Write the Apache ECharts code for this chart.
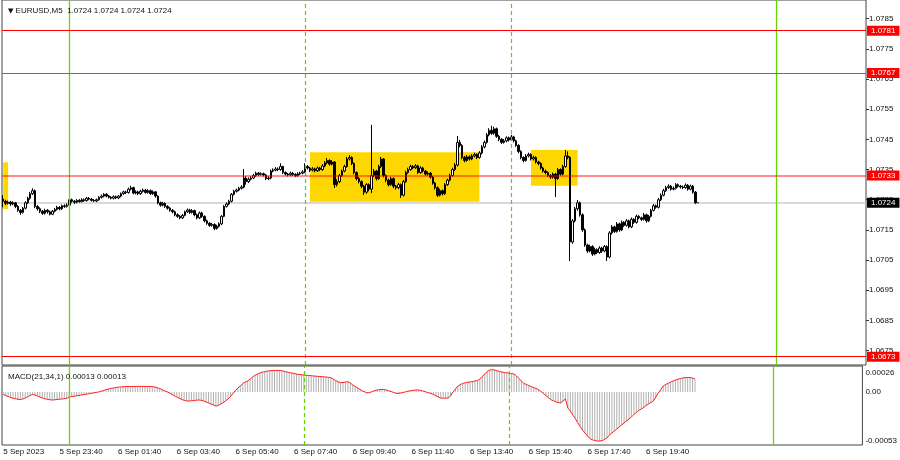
<!DOCTYPE html>
<html><head><meta charset="utf-8">
<script src="https://cdn.jsdelivr.net/npm/echarts@6/dist/echarts.min.js"></script>
<style>html,body{margin:0;padding:0;background:#fff}#c{width:900px;height:460px}</style>
</head><body><div id="c"></div>
<script>
// ---- data (EURUSD M5, 5 Sep 21:45 .. 6 Sep 21:20) ----
const opens = [1.07252,1.07245,1.07238,1.07242,1.07236,1.07240,1.07228,1.07215,1.07208,1.07222,
1.07240,1.07255,1.07270,1.07280,1.07228,1.07220,1.07212,1.07205,1.07215,1.07210,
1.07202,1.07212,1.07218,1.07225,1.07220,1.07230,1.07228,1.07232,1.07250,1.07245,
1.07242,1.07248,1.07244,1.07250,1.07247,1.07255,1.07252,1.07248,1.07246,1.07250,
1.07258,1.07262,1.07268,1.07262,1.07258,1.07255,1.07260,1.07256,1.07262,1.07270,
1.07276,1.07274,1.07285,1.07290,1.07272,1.07276,1.07270,1.07278,1.07282,1.07274,
1.07280,1.07270,1.07276,1.07262,1.07240,1.07232,1.07238,1.07228,1.07222,1.07215,
1.07210,1.07200,1.07195,1.07190,1.07198,1.07210,1.07216,1.07208,1.07214,1.07200,
1.07190,1.07206,1.07195,1.07180,1.07172,1.07165,1.07168,1.07155,1.07162,1.07170,
1.07195,1.07228,1.07236,1.07245,1.07268,1.07278,1.07282,1.07288,1.07292,1.07322,
1.07310,1.07318,1.07322,1.07330,1.07338,1.07334,1.07336,1.07332,1.07320,1.07322,
1.07345,1.07348,1.07352,1.07350,1.07360,1.07340,1.07335,1.07332,1.07338,1.07334,
1.07330,1.07336,1.07338,1.07342,1.07360,1.07355,1.07348,1.07352,1.07346,1.07355,
1.07350,1.07362,1.07372,1.07380,1.07368,1.07375,1.07300,1.07310,1.07330,1.07345,
1.07360,1.07385,1.07390,1.07370,1.07340,1.07320,1.07310,1.07295,1.07275,1.07300,
1.07285,1.07330,1.07345,1.07320,1.07360,1.07385,1.07330,1.07315,1.07300,1.07320,
1.07295,1.07290,1.07300,1.07265,1.07310,1.07340,1.07350,1.07360,1.07356,1.07362,
1.07340,1.07355,1.07345,1.07335,1.07338,1.07325,1.07305,1.07290,1.07265,1.07280,
1.07270,1.07300,1.07315,1.07330,1.07350,1.07365,1.07440,1.07430,1.07390,1.07380,
1.07392,1.07385,1.07395,1.07400,1.07390,1.07405,1.07425,1.07440,1.07465,1.07480,
1.07470,1.07485,1.07460,1.07450,1.07440,1.07445,1.07455,1.07448,1.07458,1.07445,
1.07430,1.07410,1.07390,1.07380,1.07395,1.07400,1.07385,1.07390,1.07375,1.07370,
1.07355,1.07345,1.07340,1.07330,1.07325,1.07335,1.07320,1.07350,1.07335,1.07360,
1.07395,1.07390,1.07110,1.07180,1.07220,1.07240,1.07200,1.07150,1.07100,1.07080,
1.07095,1.07070,1.07085,1.07075,1.07090,1.07080,1.07095,1.07060,1.07140,1.07160,
1.07145,1.07170,1.07150,1.07175,1.07165,1.07180,1.07160,1.07185,1.07175,1.07195,
1.07190,1.07185,1.07200,1.07180,1.07195,1.07215,1.07230,1.07225,1.07250,1.07265,
1.07280,1.07290,1.07295,1.07285,1.07288,1.07300,1.07295,1.07292,1.07290,1.07298,
1.07285,1.07295,1.07275,1.07240];
const closes = [1.07245,1.07238,1.07242,1.07236,1.07240,1.07228,1.07215,1.07208,1.07222,1.07240,
1.07255,1.07270,1.07280,1.07228,1.07220,1.07212,1.07205,1.07215,1.07210,1.07202,
1.07212,1.07218,1.07225,1.07220,1.07230,1.07228,1.07232,1.07250,1.07245,1.07242,
1.07248,1.07244,1.07250,1.07247,1.07255,1.07252,1.07248,1.07246,1.07250,1.07258,
1.07262,1.07268,1.07262,1.07258,1.07255,1.07260,1.07256,1.07262,1.07270,1.07276,
1.07274,1.07285,1.07290,1.07272,1.07276,1.07270,1.07278,1.07282,1.07274,1.07280,
1.07270,1.07276,1.07262,1.07240,1.07232,1.07238,1.07228,1.07222,1.07215,1.07210,
1.07200,1.07195,1.07190,1.07198,1.07210,1.07216,1.07208,1.07214,1.07200,1.07190,
1.07206,1.07195,1.07180,1.07172,1.07165,1.07168,1.07155,1.07162,1.07170,1.07195,
1.07228,1.07236,1.07245,1.07268,1.07278,1.07282,1.07288,1.07292,1.07322,1.07310,
1.07318,1.07322,1.07330,1.07338,1.07334,1.07336,1.07332,1.07320,1.07322,1.07345,
1.07348,1.07352,1.07350,1.07360,1.07340,1.07335,1.07332,1.07338,1.07334,1.07330,
1.07336,1.07338,1.07342,1.07360,1.07355,1.07348,1.07352,1.07346,1.07355,1.07350,
1.07362,1.07372,1.07380,1.07368,1.07375,1.07300,1.07310,1.07330,1.07345,1.07360,
1.07385,1.07390,1.07370,1.07340,1.07320,1.07310,1.07295,1.07275,1.07300,1.07285,
1.07330,1.07345,1.07320,1.07360,1.07385,1.07330,1.07315,1.07300,1.07320,1.07295,
1.07290,1.07300,1.07265,1.07310,1.07340,1.07350,1.07360,1.07356,1.07362,1.07340,
1.07355,1.07345,1.07335,1.07338,1.07325,1.07305,1.07290,1.07265,1.07280,1.07270,
1.07300,1.07315,1.07330,1.07350,1.07365,1.07440,1.07430,1.07390,1.07380,1.07392,
1.07385,1.07395,1.07400,1.07390,1.07405,1.07425,1.07440,1.07465,1.07480,1.07470,
1.07485,1.07460,1.07450,1.07440,1.07445,1.07455,1.07448,1.07458,1.07445,1.07430,
1.07410,1.07390,1.07380,1.07395,1.07400,1.07385,1.07390,1.07375,1.07370,1.07355,
1.07345,1.07340,1.07330,1.07325,1.07335,1.07320,1.07350,1.07335,1.07360,1.07395,
1.07390,1.07110,1.07180,1.07220,1.07240,1.07200,1.07150,1.07100,1.07080,1.07095,
1.07070,1.07085,1.07075,1.07090,1.07080,1.07095,1.07060,1.07140,1.07160,1.07145,
1.07170,1.07150,1.07175,1.07165,1.07180,1.07160,1.07185,1.07175,1.07195,1.07190,
1.07185,1.07200,1.07180,1.07195,1.07215,1.07230,1.07225,1.07250,1.07265,1.07280,
1.07290,1.07295,1.07285,1.07288,1.07300,1.07295,1.07292,1.07290,1.07298,1.07285,
1.07295,1.07275,1.07240,1.07240];
const highs = [1.07265,1.07250,1.07247,1.07246,1.07245,1.07243,1.07232,1.07219,1.07226,1.07245,
1.07260,1.07276,1.07288,1.07284,1.07232,1.07225,1.07216,1.07220,1.07219,1.07214,
1.07216,1.07223,1.07230,1.07229,1.07234,1.07235,1.07238,1.07255,1.07254,1.07249,
1.07252,1.07252,1.07255,1.07254,1.07259,1.07259,1.07256,1.07252,1.07254,1.07262,
1.07267,1.07272,1.07272,1.07266,1.07262,1.07264,1.07264,1.07266,1.07274,1.07280,
1.07280,1.07290,1.07296,1.07293,1.07281,1.07280,1.07283,1.07287,1.07286,1.07285,
1.07284,1.07281,1.07279,1.07265,1.07244,1.07243,1.07241,1.07232,1.07226,1.07219,
1.07214,1.07205,1.07199,1.07203,1.07214,1.07221,1.07220,1.07219,1.07217,1.07204,
1.07211,1.07210,1.07198,1.07184,1.07176,1.07173,1.07172,1.07167,1.07175,1.07199,
1.07232,1.07241,1.07250,1.07272,1.07283,1.07287,1.07293,1.07298,1.07352,1.07328,
1.07324,1.07328,1.07336,1.07343,1.07342,1.07341,1.07340,1.07335,1.07328,1.07350,
1.07354,1.07358,1.07357,1.07371,1.07363,1.07344,1.07339,1.07343,1.07342,1.07338,
1.07341,1.07343,1.07348,1.07371,1.07365,1.07359,1.07358,1.07356,1.07360,1.07359,
1.07368,1.07378,1.07388,1.07384,1.07381,1.07378,1.07318,1.07335,1.07350,1.07366,
1.07392,1.07398,1.07394,1.07374,1.07344,1.07325,1.07314,1.07299,1.07305,1.07304,
1.07498,1.07352,1.07349,1.07366,1.07392,1.07388,1.07334,1.07320,1.07326,1.07324,
1.07299,1.07306,1.07304,1.07316,1.07346,1.07356,1.07366,1.07365,1.07368,1.07366,
1.07361,1.07359,1.07349,1.07344,1.07342,1.07329,1.07309,1.07294,1.07286,1.07284,
1.07305,1.07320,1.07336,1.07356,1.07372,1.07461,1.07448,1.07434,1.07395,1.07398,
1.07397,1.07401,1.07406,1.07404,1.07411,1.07431,1.07446,1.07471,1.07487,1.07495,
1.07492,1.07489,1.07465,1.07454,1.07451,1.07460,1.07459,1.07465,1.07462,1.07449,
1.07434,1.07414,1.07394,1.07401,1.07406,1.07404,1.07396,1.07394,1.07379,1.07374,
1.07359,1.07350,1.07344,1.07335,1.07340,1.07339,1.07355,1.07354,1.07366,1.07415,
1.07410,1.07394,1.07186,1.07226,1.07249,1.07244,1.07205,1.07155,1.07104,1.07101,
1.07099,1.07091,1.07089,1.07096,1.07094,1.07100,1.07099,1.07146,1.07166,1.07164,
1.07176,1.07174,1.07181,1.07179,1.07186,1.07184,1.07191,1.07189,1.07201,1.07199,
1.07194,1.07206,1.07204,1.07200,1.07220,1.07236,1.07234,1.07256,1.07271,1.07286,
1.07296,1.07301,1.07299,1.07294,1.07305,1.07304,1.07299,1.07297,1.07304,1.07302,
1.07300,1.07299,1.07279,1.07240];
const lows = [1.07225,1.07232,1.07234,1.07230,1.07232,1.07222,1.07210,1.07200,1.07204,1.07218,
1.07236,1.07250,1.07266,1.07222,1.07214,1.07206,1.07200,1.07201,1.07204,1.07198,
1.07199,1.07208,1.07214,1.07215,1.07216,1.07223,1.07224,1.07229,1.07240,1.07236,
1.07238,1.07240,1.07241,1.07243,1.07244,1.07248,1.07244,1.07242,1.07242,1.07247,
1.07254,1.07258,1.07258,1.07254,1.07251,1.07251,1.07252,1.07252,1.07258,1.07266,
1.07269,1.07270,1.07281,1.07268,1.07268,1.07265,1.07266,1.07274,1.07270,1.07270,
1.07266,1.07266,1.07257,1.07235,1.07227,1.07228,1.07223,1.07217,1.07210,1.07205,
1.07195,1.07190,1.07185,1.07186,1.07195,1.07206,1.07203,1.07204,1.07195,1.07185,
1.07186,1.07190,1.07175,1.07167,1.07160,1.07161,1.07149,1.07151,1.07158,1.07166,
1.07192,1.07224,1.07232,1.07241,1.07264,1.07274,1.07278,1.07284,1.07288,1.07300,
1.07305,1.07314,1.07318,1.07326,1.07329,1.07330,1.07327,1.07315,1.07315,1.07318,
1.07341,1.07344,1.07345,1.07346,1.07335,1.07330,1.07327,1.07328,1.07329,1.07325,
1.07326,1.07332,1.07334,1.07338,1.07350,1.07342,1.07344,1.07341,1.07342,1.07345,
1.07346,1.07358,1.07368,1.07363,1.07364,1.07289,1.07294,1.07305,1.07326,1.07341,
1.07356,1.07380,1.07365,1.07334,1.07314,1.07304,1.07288,1.07266,1.07270,1.07278,
1.07272,1.07325,1.07314,1.07316,1.07355,1.07324,1.07308,1.07294,1.07296,1.07288,
1.07284,1.07285,1.07256,1.07261,1.07306,1.07336,1.07346,1.07351,1.07352,1.07335,
1.07336,1.07340,1.07330,1.07330,1.07320,1.07300,1.07284,1.07259,1.07261,1.07264,
1.07266,1.07296,1.07311,1.07326,1.07345,1.07360,1.07424,1.07384,1.07374,1.07376,
1.07380,1.07381,1.07390,1.07385,1.07386,1.07400,1.07420,1.07436,1.07460,1.07465,
1.07465,1.07455,1.07444,1.07435,1.07436,1.07440,1.07443,1.07444,1.07440,1.07425,
1.07404,1.07384,1.07374,1.07376,1.07390,1.07380,1.07380,1.07370,1.07364,1.07350,
1.07340,1.07334,1.07325,1.07319,1.07320,1.07259,1.07316,1.07330,1.07331,1.07356,
1.07384,1.07047,1.07104,1.07175,1.07214,1.07194,1.07144,1.07094,1.07074,1.07076,
1.07064,1.07066,1.07070,1.07071,1.07074,1.07076,1.07047,1.07056,1.07135,1.07140,
1.07141,1.07144,1.07146,1.07160,1.07161,1.07155,1.07156,1.07170,1.07171,1.07185,
1.07180,1.07181,1.07174,1.07176,1.07191,1.07211,1.07220,1.07221,1.07246,1.07261,
1.07276,1.07286,1.07280,1.07281,1.07284,1.07290,1.07287,1.07285,1.07286,1.07280,
1.07281,1.07270,1.07236,1.07240];
const macdMain = [-2.5e-5,-3.5e-5,-4.5e-5,-5.5e-5,-6.2e-5,-6.8e-5,-7.2e-5,-7.6e-5,-7e-5,-6e-5,
-4.8e-5,-3.5e-5,-2.5e-5,-3e-5,-4e-5,-5e-5,-6e-5,-6.8e-5,-7.3e-5,-7.7e-5,
-8e-5,-7.8e-5,-7.5e-5,-7.2e-5,-7e-5,-6.7e-5,-6.3e-5,-5e-5,-4.6e-5,-4.2e-5,
-3.8e-5,-3.4e-5,-3e-5,-2.6e-5,-2.2e-5,-1.8e-5,-1.3e-5,-0.9e-5,-0.4e-5,0,
0.8e-5,1.5e-5,2.2e-5,3e-5,3.5e-5,4e-5,4.5e-5,4.8e-5,5.1e-5,5.3e-5,
5.4e-5,5.5e-5,5.5e-5,5.5e-5,5.5e-5,5.6e-5,5.6e-5,5.6e-5,5.6e-5,5.5e-5,
5.5e-5,5.4e-5,5e-5,4.3e-5,3.5e-5,2.4e-5,1.3e-5,0.2e-5,-1e-5,-2.5e-5,
-3.7e-5,-5e-5,-6.2e-5,-7.4e-5,-8.3e-5,-9e-5,-9e-5,-8.8e-5,-8.5e-5,-8.2e-5,
-8e-5,-8.3e-5,-9e-5,-10e-5,-11e-5,-12e-5,-13e-5,-14e-5,-13.5e-5,-12e-5,
-10.5e-5,-8.8e-5,-7e-5,-4.5e-5,-1.5e-5,1.5e-5,4e-5,6e-5,8.5e-5,10e-5,
11e-5,13e-5,15e-5,16.7e-5,18e-5,19e-5,19.8e-5,20.3e-5,20.8e-5,21.2e-5,
21.4e-5,21.5e-5,21.6e-5,21.5e-5,21.2e-5,20.6e-5,20e-5,19.5e-5,19e-5,18.5e-5,
18e-5,17.6e-5,17.3e-5,17e-5,16.7e-5,16.5e-5,16.3e-5,16e-5,15.8e-5,15.6e-5,
15.4e-5,15.2e-5,15e-5,14.7e-5,14.4e-5,13e-5,11.5e-5,10.2e-5,9.3e-5,9.5e-5,
10e-5,10.3e-5,9e-5,7e-5,5.5e-5,4e-5,2.5e-5,1e-5,0,-1e-5,
-0.5e-5,0.5e-5,1.3e-5,2e-5,2.4e-5,2.6e-5,2.5e-5,1.8e-5,1e-5,0.2e-5,
-0.7e-5,-1.5e-5,-1.3e-5,-0.8e-5,-0.2e-5,0.4e-5,1e-5,1.5e-5,1.8e-5,2e-5,
2e-5,1.5e-5,0.8e-5,0,-0.8e-5,-1.5e-5,-2.5e-5,-3.8e-5,-5e-5,-6e-5,
-6.2e-5,-6.2e-5,-6e-5,-4e-5,0,3e-5,6e-5,7.5e-5,8.5e-5,9.3e-5,
9.7e-5,10e-5,10.5e-5,11e-5,11.5e-5,13e-5,15.5e-5,18e-5,20.5e-5,22e-5,
22.3e-5,22e-5,21.2e-5,20.5e-5,20e-5,19.5e-5,19.2e-5,18.8e-5,18.4e-5,18e-5,
16e-5,13.5e-5,11e-5,8.6e-5,7.5e-5,6.5e-5,5.5e-5,4.5e-5,3.5e-5,2.5e-5,
0.5e-5,-1.5e-5,-3.5e-5,-5.5e-5,-7.6e-5,-8.8e-5,-9.8e-5,-10.5e-5,-11e-5,-9e-5,
-7e-5,-16e-5,-19e-5,-23e-5,-26.5e-5,-30.5e-5,-34.5e-5,-38e-5,-41e-5,-44e-5,
-46.5e-5,-47.8e-5,-48.5e-5,-49e-5,-49e-5,-48.7e-5,-47.5e-5,-46e-5,-43e-5,-41e-5,
-39e-5,-37e-5,-35e-5,-33e-5,-31e-5,-29e-5,-27e-5,-25e-5,-22.5e-5,-20.5e-5,
-18.5e-5,-17e-5,-15.5e-5,-13.5e-5,-12e-5,-10.5e-5,-9e-5,-5e-5,-1e-5,2.5e-5,
6e-5,7.5e-5,8.7e-5,9.8e-5,11e-5,12e-5,12.8e-5,13.5e-5,14e-5,14.4e-5,
14.5e-5,14.4e-5,14e-5,13e-5];
// signal = SMA(MACD, 1), identical to the main line
const macdSignal = macdMain;

// time axis: M5 bars from 5 Sep 21:45, plus empty future slots
const startDay = 5, startMinute = 21 * 60 + 45, barMinutes = 5, slotCount = 352;
const categories = [];
for (let i = 0; i < slotCount; i++) {
  const m = startMinute + barMinutes * i;
  const d = startDay + Math.floor(m / 1440), mm = m % 1440;
  categories.push(d + ' Sep ' + String(Math.floor(mm / 60)).padStart(2, '0') + ':' + String(mm % 60).padStart(2, '0'));
}
const timeTickAt = ['5 Sep 21:45','5 Sep 23:40','6 Sep 01:40','6 Sep 03:40','6 Sep 05:40','6 Sep 07:40','6 Sep 09:40','6 Sep 11:40','6 Sep 13:40','6 Sep 15:40','6 Sep 17:40','6 Sep 19:40'];
const timeTickText = ['5 Sep 2023','5 Sep 23:40','6 Sep 01:40','6 Sep 03:40','6 Sep 05:40','6 Sep 07:40','6 Sep 09:40','6 Sep 11:40','6 Sep 13:40','6 Sep 15:40','6 Sep 17:40','6 Sep 19:40'];
const priceTicks = [1.0785,1.0775,1.0765,1.0755,1.0745,1.0735,1.0725,1.0715,1.0705,1.0695,1.0685,1.0675];
const macdTicks = [0.00026, 0, -0.00053];
const macdTickText = ['0.00026', '0.00', '-0.00053'];

// drawn objects
const dayLines = ['6 Sep 00:00', '7 Sep 00:00'];
const sessionLines = ['6 Sep 08:00', '6 Sep 15:00'];
const levelsStrong = [1.0781, 1.0673];
const levelsWeak = [1.0767];
const levelsSoft = [1.0733];
const bidLevel = [1.0724];
const boxes = [
  { from: '5 Sep 21:45', to: '5 Sep 21:55', low: 1.07219, high: 1.07374 },
  { from: '6 Sep 08:10', to: '6 Sep 13:55', low: 1.07243, high: 1.07407 },
  { from: '6 Sep 15:40', to: '6 Sep 17:15', low: 1.07296, high: 1.07415 }
];

const FONT = '"Liberation Sans", Arial, sans-serif';
const candleData = opens.map((o, i) => [o, closes[i], lows[i], highs[i]]);
const last = opens.length - 1;
const f4 = v => v.toFixed(4);

// host series for horizontal level lines (one style per series)
function levelSeries(values, lineStyle, tagBg, z) {
  return { type: 'line', xAxisIndex: 0, yAxisIndex: 0, data: [], silent: true, z: z,
    markLine: { silent: true, symbol: ['none', 'none'], z: z, precision: 6, lineStyle: lineStyle,
      label: { show: true, position: 'end', distance: 1, formatter: p => f4(p.value),
        color: '#fff', backgroundColor: tagBg, fontSize: 8, fontFamily: FONT,
        padding: [1, 4, 0, 4], lineHeight: 9 },
      data: values.map(v => ({ yAxis: v })) } };
}
// host series for vertical time lines
function timeSeries(times, lineStyle, axisIdx) {
  return { type: 'line', xAxisIndex: axisIdx, yAxisIndex: axisIdx, data: [], silent: true, z: 4,
    markLine: { silent: true, symbol: ['none', 'none'], z: 4, lineStyle: lineStyle,
      label: { show: false }, data: times.map(t => ({ xAxis: t })) } };
}
const dayStyle = { color: '#6ad600', width: 1.3, type: 'solid' };
const sessStyle = { color: '#5fd000', width: 1.2, type: [4, 3] };

const chart = echarts.init(document.getElementById('c'), null, { renderer: 'canvas' });
chart.setOption({
  animation: false,
  backgroundColor: '#fff',
  title: [
    { text: '{tri|▼} EURUSD,M5  ' + [opens[last], highs[last], lows[last], closes[last]].map(f4).join(' '),
      left: 3, top: 2,
      textStyle: { fontSize: 8, fontWeight: 'normal', color: '#111', fontFamily: FONT,
        rich: { tri: { fontSize: 7, color: '#111', fontFamily: 'DejaVu Sans' } } } },
    { text: 'MACD(21,34,1) ' + macdMain[last].toFixed(5) + ' ' + macdSignal[last].toFixed(5),
      left: 3, top: 368,
      textStyle: { fontSize: 8, fontWeight: 'normal', color: '#111', fontFamily: FONT } }
  ],
  grid: [
    { left: 2, right: 34, top: 0, height: 365, show: true, borderColor: '#444', borderWidth: 1, backgroundColor: 'transparent' },
    { left: 2, right: 34, top: 366, height: 79, show: true, borderColor: '#444', borderWidth: 1, backgroundColor: 'transparent' }
  ],
  xAxis: [
    { type: 'category', gridIndex: 0, data: categories, boundaryGap: true,
      axisLine: { show: false }, axisTick: { show: false }, axisLabel: { show: false }, splitLine: { show: false } },
    { type: 'category', gridIndex: 1, data: categories, boundaryGap: true,
      axisLine: { show: false }, axisTick: { show: false }, splitLine: { show: false },
      axisLabel: { interval: (idx, val) => timeTickAt.includes(val),
        formatter: val => timeTickText[timeTickAt.indexOf(val)],
        align: 'left', margin: 3, fontSize: 8, color: '#111', fontFamily: FONT } }
  ],
  yAxis: [
    { type: 'value', gridIndex: 0, position: 'right', min: 1.067025, max: 1.079117,
      splitLine: { show: false }, axisLine: { show: false },
      axisTick: { show: true, length: 3, lineStyle: { color: '#333' }, customValues: priceTicks },
      axisLabel: { customValues: priceTicks, formatter: v => v.toFixed(4), margin: 3,
        fontSize: 8, color: '#111', fontFamily: FONT } },
    { type: 'value', gridIndex: 1, position: 'right', min: -0.00053, max: 0.00026,
      splitLine: { show: false }, axisLine: { show: false },
      axisTick: { show: false },
      axisLabel: { customValues: macdTicks,
        formatter: v => { const i = macdTicks.indexOf(v); const t = macdTickText[i];
          return i === 0 ? '{t|' + t + '}' : (i === 2 ? '{b|' + t + '}' : '{m|' + t + '}'); },
        margin: 3, fontSize: 8, color: '#111', fontFamily: FONT,
        rich: { t: { fontSize: 8, color: '#111', fontFamily: FONT, padding: [14, 0, 0, 0] },
                m: { fontSize: 8, color: '#111', fontFamily: FONT },
                b: { fontSize: 8, color: '#111', fontFamily: FONT, padding: [0, 0, 9, 0] } } } }
  ],
  series: [
    { type: 'line', xAxisIndex: 0, yAxisIndex: 0, data: [], silent: true, z: 1,
      markArea: { silent: true, z: 1, itemStyle: { color: '#ffd700', opacity: 1 },
        data: boxes.map(b => [{ xAxis: b.from, yAxis: b.high }, { xAxis: b.to, yAxis: b.low }]) } },
    timeSeries(dayLines, dayStyle, 0),
    timeSeries(sessionLines, sessStyle, 0),
    levelSeries(bidLevel, { color: '#cccccc', width: 1.5, type: 'solid' }, '#000000', 2),
    levelSeries(levelsSoft, { color: 'rgba(255,0,0,0.45)', width: 2, type: 'solid' }, '#ff0000', 5),
    levelSeries(levelsWeak, { color: '#ff3030', width: 1, type: 'solid' }, '#ff0000', 5),
    levelSeries(levelsStrong, { color: '#ff0000', width: 1.2, type: 'solid' }, '#ff0000', 5),
    { type: 'candlestick', xAxisIndex: 0, yAxisIndex: 0, data: candleData, barWidth: 2, z: 3,
      itemStyle: { color: '#ffffff', color0: '#000000', borderColor: '#000000', borderColor0: '#000000',
        borderColorDoji: '#000000', borderWidth: 1 } },
    { type: 'bar', xAxisIndex: 1, yAxisIndex: 1, data: macdMain, barWidth: 1,
      itemStyle: { color: '#b0b0b0' } },
    { type: 'line', xAxisIndex: 1, yAxisIndex: 1, data: macdSignal, showSymbol: false, symbol: 'none',
      lineStyle: { color: '#ff2020', width: 1 }, z: 3 },
    timeSeries(dayLines, dayStyle, 1),
    timeSeries(sessionLines, sessStyle, 1)
  ]
});
</script>
</body></html>
